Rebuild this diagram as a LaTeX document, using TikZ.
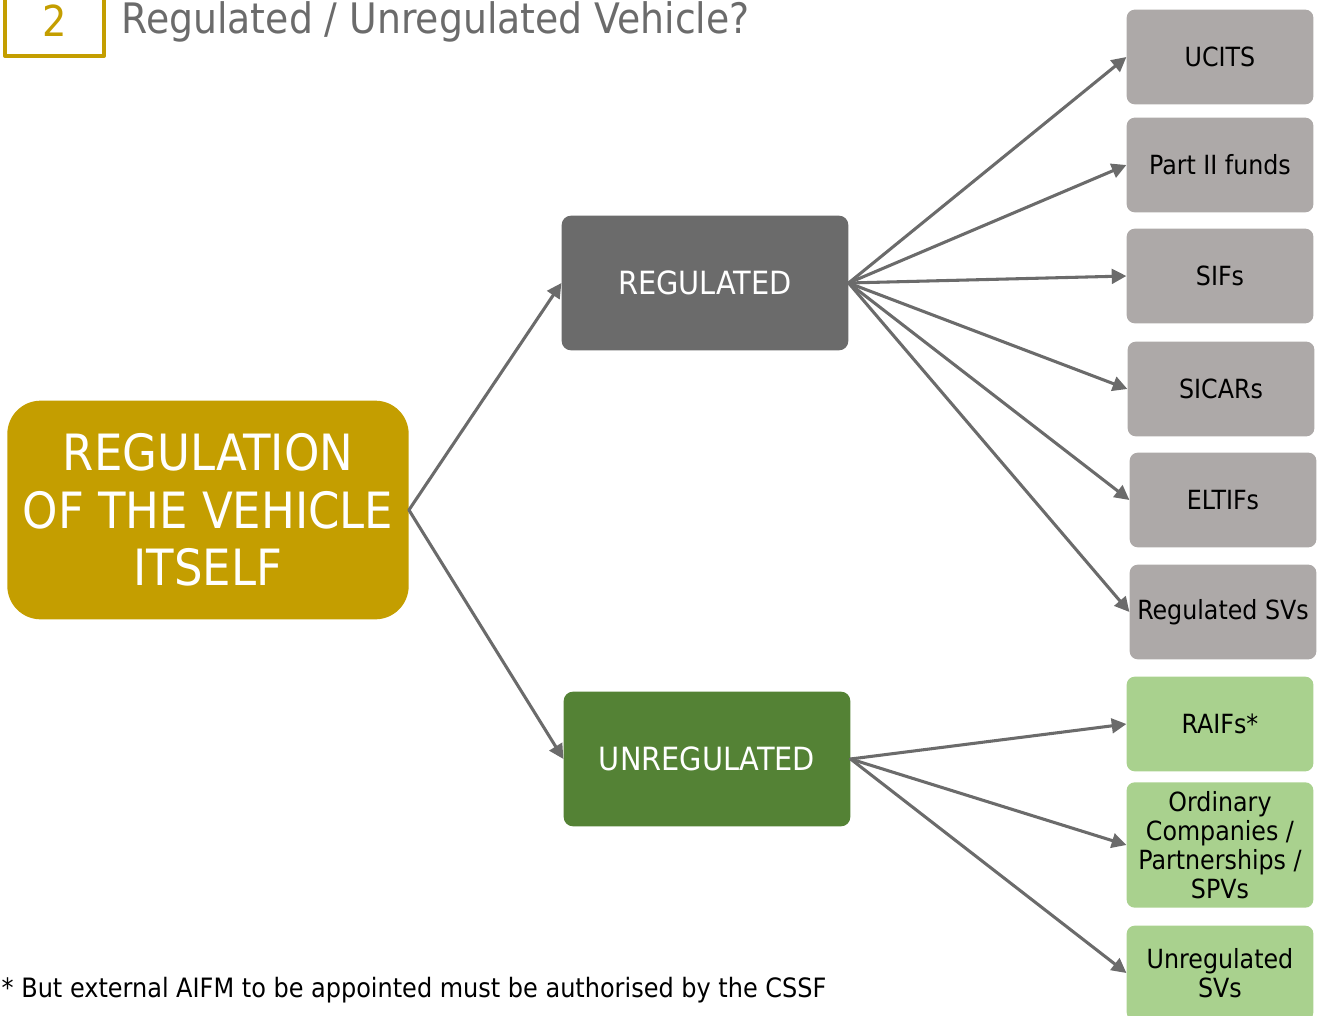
\documentclass[tikz,border=0pt]{standalone}
\usepackage{fontspec}
\setmainfont{DejaVu Sans Condensed}
\usepackage{tikz}
\usetikzlibrary{arrows.meta}
\definecolor{gold}{HTML}{C49E00}
\definecolor{darkgrey}{HTML}{6B6B6B}
\definecolor{boxgrey}{HTML}{ADA9A8}
\definecolor{darkgreen}{HTML}{548235}
\definecolor{lightgreen}{HTML}{A9D18E}
\tikzset{
  mainbox/.style={rounded corners=25pt,fill=gold,text=white,align=center,inner sep=0pt},
  midbox/.style={rounded corners=7pt,text=white,inner sep=0pt,minimum width=215pt,minimum height=101pt,font=\fontsize{24}{28}\selectfont},
  leafbox/.style={rounded corners=6pt,inner sep=0pt,minimum width=140pt,minimum height=71pt,align=center,font=\fontsize{19.8}{21.7}\selectfont},
  link/.style={draw=darkgrey,line width=2.3pt,-{Triangle[length=11pt,width=11pt]}}
}
\begin{document}
\begin{tikzpicture}[line cap=round,line join=round,x=0.75pt,y=-0.75pt]
\useasboundingbox (0,0) rectangle (1322,1016);
\clip (0,0) rectangle (1322,1016);
% title
\draw[gold,line width=3pt] (5,-10) -- (5,56) -- (104,56) -- (104,-10);
\node[text=gold,font=\fontsize{32}{36}\selectfont] (num) at (55,21) {2};
\node[anchor=west,text=darkgrey,font=\fontsize{31.5}{36}\selectfont] (title) at (117,22) {Regulated / Unregulated Vehicle?};
% left
\node[mainbox,minimum width=301pt,minimum height=164pt,font=\fontsize{37.5}{43}\selectfont] (vehicle) at (208,510) {REGULATION\\OF THE VEHICLE\\ITSELF};
% middle
\node[midbox,fill=darkgrey] (reg) at (705,283) {REGULATED};
\node[midbox,fill=darkgreen] (unreg) at (707,759) {UNREGULATED};
% right, regulated
\node[leafbox,fill=boxgrey] (ucits) at (1220,57) {UCITS};
\node[leafbox,fill=boxgrey] (part2) at (1220,165) {Part II funds};
\node[leafbox,fill=boxgrey] (sif) at (1220,276) {SIFs};
\node[leafbox,fill=boxgrey] (sicar) at (1221,389) {SICARs};
\node[leafbox,fill=boxgrey] (eltif) at (1223,500) {ELTIFs};
\node[leafbox,fill=boxgrey] (regsv) at (1223,612) {Regulated SVs};
% right, unregulated
\node[leafbox,fill=lightgreen] (raif) at (1220,724) {RAIFs*};
\node[leafbox,fill=lightgreen,minimum height=94pt] (ordco) at (1220,845) {Ordinary\\Companies /\\Partnerships /\\SPVs};
\node[leafbox,fill=lightgreen] (unregsv) at (1220,973) {Unregulated\\SVs};
% footnote
\node[anchor=west,font=\fontsize{20}{22}\selectfont] (note) at (-3,990) {* But external AIFM to be appointed must be authorised by the CSSF};
% arrows
\draw[link] (vehicle.east) -- (reg.west);
\draw[link] (vehicle.east) -- (unreg.west);
\foreach \leaf in {ucits,part2,sif,sicar,eltif,regsv}
  \draw[link] (reg.east) -- (\leaf.west);
\foreach \leaf in {raif,ordco,unregsv}
  \draw[link] (unreg.east) -- (\leaf.west);
\end{tikzpicture}
\end{document}
